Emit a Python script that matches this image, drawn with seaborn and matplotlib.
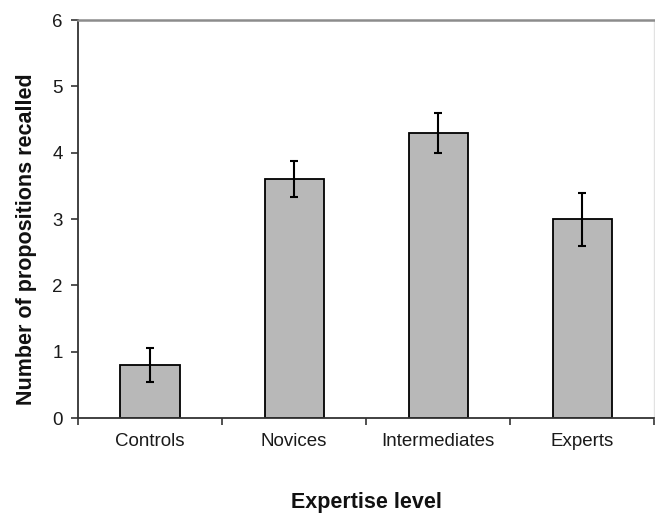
import matplotlib
matplotlib.use("Agg")
import matplotlib.pyplot as plt
from matplotlib.ticker import FixedLocator, NullFormatter
import seaborn as sns
import pandas as pd

# Mean propositions recalled per expertise group, with error bar half-widths
categories = ["Controls", "Novices", "Intermediates", "Experts"]
means = [0.8, 3.6, 4.3, 3.0]
errors = [0.25, 0.27, 0.30, 0.40]
y_ticks = [0, 1, 2, 3, 4, 5, 6]

sns.set_style("white")
plt.rcParams["font.family"] = ["Liberation Sans", "DejaVu Sans"]

df = pd.DataFrame({"level": categories, "recalled": means})

fig = plt.figure(figsize=(6.55, 5.13), dpi=100)
ax = fig.add_axes([0.119, 0.185, 0.880, 0.776])

sns.barplot(data=df, x="level", y="recalled", order=categories,
            color="#b8b8b8", saturation=1, edgecolor="black",
            linewidth=1.3, width=0.41, errorbar=None, ax=ax)
ax.errorbar(x=range(len(categories)), y=means, yerr=errors, fmt="none",
            ecolor="black", elinewidth=1.5, capsize=3, capthick=1.5, zorder=5)

ax.set_xlim(-0.5, len(categories) - 0.5)
ax.set_ylim(0, 6)
ax.set_yticks(y_ticks)

# Category ticks sit between groups; labels stay centred under bars
ax.tick_params(axis="x", which="major", length=0, pad=11, labelsize=13.5,
               labelcolor="#1a1a1a")
ax.xaxis.set_minor_locator(FixedLocator([i - 0.5 for i in range(len(categories) + 1)]))
ax.xaxis.set_minor_formatter(NullFormatter())
ax.tick_params(axis="x", which="minor", bottom=True, length=5, width=1.2,
               color="#333333", direction="out")
ax.tick_params(axis="y", left=True, length=5, width=1.2, color="#333333",
               direction="out", labelsize=13.5, labelcolor="#1a1a1a", pad=6)

for side in ("left", "bottom"):
    ax.spines[side].set_color("#333333")
    ax.spines[side].set_linewidth(1.3)
ax.spines["top"].set_color("#8c8c8c")
ax.spines["top"].set_linewidth(1.8)
ax.spines["right"].set_color("#e2e2e2")
ax.spines["right"].set_linewidth(1.0)

ax.set_xlabel("Expertise level", fontsize=15.5, fontweight="bold",
              color="#111111")
ax.set_ylabel("Number of propositions recalled", fontsize=15.5,
              fontweight="bold", color="#111111")
ax.xaxis.set_label_coords(0.5, -0.185)
ax.yaxis.set_label_coords(-0.071, 0.45)

fig.savefig("out.png", dpi=100)
